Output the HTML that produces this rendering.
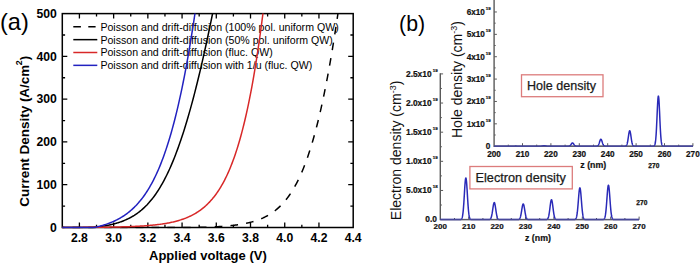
<!DOCTYPE html>
<html><head><meta charset="utf-8"><style>
html,body{margin:0;padding:0;background:#fff;width:700px;height:264px;overflow:hidden}
svg{display:block}
</style></head><body>
<svg width="700" height="264" viewBox="0 0 700 264">
<rect width="700" height="264" fill="#fff"/>
<clipPath id="ca"><rect x="61.3" y="13.6" width="291.9" height="214.9"/></clipPath>
<path d="M79.41,227.5v-5M79.41,13.6v5M96.52,227.5v-2.8M96.52,13.6v2.8M113.63,227.5v-5M113.63,13.6v5M130.74,227.5v-2.8M130.74,13.6v2.8M147.85,227.5v-5M147.85,13.6v5M164.96,227.5v-2.8M164.96,13.6v2.8M182.07,227.5v-5M182.07,13.6v5M199.18,227.5v-2.8M199.18,13.6v2.8M216.29,227.5v-5M216.29,13.6v5M233.40,227.5v-2.8M233.40,13.6v2.8M250.51,227.5v-5M250.51,13.6v5M267.62,227.5v-2.8M267.62,13.6v2.8M284.73,227.5v-5M284.73,13.6v5M301.84,227.5v-2.8M301.84,13.6v2.8M318.95,227.5v-5M318.95,13.6v5M62.3,206.11h2.8M353.2,206.11h-2.8M62.3,184.72h5M353.2,184.72h-5M62.3,163.33h2.8M353.2,163.33h-2.8M62.3,141.94h5M353.2,141.94h-5M62.3,120.55h2.8M353.2,120.55h-2.8M62.3,99.16h5M353.2,99.16h-5M62.3,77.77h2.8M353.2,77.77h-2.8M62.3,56.38h5M353.2,56.38h-5M62.3,34.99h2.8M353.2,34.99h-2.8" stroke="#000" stroke-width="1.3" fill="none"/>
<rect x="62.3" y="13.6" width="290.9" height="213.9" fill="none" stroke="#000" stroke-width="1.5"/>
<g font-family="Liberation Sans" font-weight="bold" font-size="12.2" fill="#000"><text x="79.41" y="242.4" text-anchor="middle">2.8</text><text x="113.63" y="242.4" text-anchor="middle">3.0</text><text x="147.85" y="242.4" text-anchor="middle">3.2</text><text x="182.07" y="242.4" text-anchor="middle">3.4</text><text x="216.29" y="242.4" text-anchor="middle">3.6</text><text x="250.51" y="242.4" text-anchor="middle">3.8</text><text x="284.73" y="242.4" text-anchor="middle">4.0</text><text x="318.95" y="242.4" text-anchor="middle">4.2</text><text x="353.17" y="242.4" text-anchor="middle">4.4</text><text x="56.8" y="231.80" text-anchor="end">0</text><text x="56.8" y="189.02" text-anchor="end">100</text><text x="56.8" y="146.24" text-anchor="end">200</text><text x="56.8" y="103.46" text-anchor="end">300</text><text x="56.8" y="60.68" text-anchor="end">400</text><text x="56.8" y="17.90" text-anchor="end">500</text></g>
<text x="149" y="260.4" font-family="Liberation Sans" font-weight="bold" font-size="13" fill="#000">Applied voltage (V)</text>
<text transform="translate(29.4,206.7) rotate(-90)" font-family="Liberation Sans" font-weight="bold" font-size="13" fill="#000" textLength="150.9" lengthAdjust="spacingAndGlyphs">Current Density (A/cm<tspan dy="-7.3" dx="-0.4" font-size="8.5">2</tspan><tspan dy="7.3">)</tspan></text>
<text x="0" y="30.2" font-family="Liberation Sans" font-size="23.6" fill="#000">(a)</text>
<path d="M73.3,26.80h7.6M88.3,26.80h7.3" stroke="#000" stroke-width="1.5"/>
<text x="100.4" y="30.70" font-family="Liberation Sans" font-size="10.6" fill="#000">Poisson and drift-diffusion (100% pol. uniform QW)</text>
<path d="M73.3,39.65h24" stroke="#000" stroke-width="1.5"/>
<text x="100.4" y="43.55" font-family="Liberation Sans" font-size="10.6" fill="#000">Poisson and drift-diffusion (50% pol. uniform QW)</text>
<path d="M73.3,52.50h24" stroke="#d82828" stroke-width="1.5"/>
<text x="100.4" y="56.40" font-family="Liberation Sans" font-size="10.6" fill="#000">Poisson and drift-diffusion (fluc. QW)</text>
<path d="M73.3,65.35h24" stroke="#2222c0" stroke-width="1.5"/>
<text x="100.4" y="69.25" font-family="Liberation Sans" font-size="10.6" fill="#000">Poisson and drift-diffusion with 1/u (fluc. QW)</text>
<g clip-path="url(#ca)" fill="none" stroke-width="1.5" stroke-linejoin="round">
<path d="M62.30,227.50 L192.26,227.50 L192.67,227.49 L193.08,227.49 L193.50,227.48 L193.94,227.47 L194.36,227.46 L194.78,227.45 L195.28,227.44 L195.75,227.44 L196.28,227.42 L196.73,227.41 L197.22,227.40 L197.76,227.39 L198.35,227.38 L198.77,227.37 L199.22,227.36 L199.69,227.35 L200.19,227.34 L200.72,227.32 L201.27,227.31 L201.86,227.29 L202.47,227.28 L203.12,227.26 L203.79,227.24 L204.50,227.22 L205.23,227.19 L206.00,227.17 L206.80,227.14 L207.22,227.13 L207.64,227.11 L208.07,227.10 L208.50,227.08 L208.95,227.07 L209.40,227.05 L209.86,227.03 L210.33,227.01 L210.80,226.99 L211.29,226.97 L211.78,226.95 L212.28,226.93 L212.79,226.91 L213.30,226.89 L213.82,226.86 L214.35,226.84 L214.89,226.81 L215.44,226.78 L215.99,226.75 L216.55,226.72 L217.11,226.69 L217.68,226.66 L218.26,226.63 L218.85,226.59 L219.44,226.56 L220.04,226.52 L220.65,226.48 L221.26,226.44 L221.87,226.40 L222.50,226.36 L223.13,226.31 L223.76,226.26 L224.41,226.22 L225.05,226.17 L225.71,226.11 L226.36,226.06 L227.03,226.00 L227.69,225.94 L228.37,225.88 L229.05,225.82 L229.73,225.75 L230.42,225.68 L231.11,225.61 L231.80,225.53 L232.51,225.46 L233.21,225.37 L233.92,225.29 L234.63,225.20 L235.35,225.11 L236.07,225.02 L236.80,224.92 L237.53,224.82 L238.26,224.71 L238.99,224.60 L239.73,224.49 L240.47,224.37 L241.22,224.25 L241.97,224.12 L242.72,223.98 L243.47,223.84 L244.23,223.70 L244.99,223.55 L245.76,223.39 L246.52,223.23 L247.29,223.06 L248.06,222.89 L248.83,222.70 L249.61,222.51 L250.39,222.32 L251.17,222.11 L251.95,221.90 L252.74,221.68 L253.52,221.45 L254.31,221.21 L255.10,220.96 L255.90,220.70 L256.69,220.43 L257.49,220.15 L258.29,219.86 L259.09,219.56 L259.90,219.25 L260.70,218.92 L261.51,218.58 L262.32,218.23 L263.13,217.87 L263.94,217.48 L264.75,217.09 L265.57,216.68 L266.39,216.25 L267.21,215.80 L268.03,215.34 L268.85,214.86 L269.68,214.36 L270.50,213.84 L271.33,213.30 L272.16,212.74 L273.00,212.16 L273.83,211.55 L274.66,210.92 L275.50,210.27 L276.34,209.59 L277.18,208.88 L278.03,208.14 L278.87,207.38 L279.72,206.58 L280.57,205.76 L281.42,204.90 L282.27,204.00 L283.13,203.08 L283.99,202.11 L284.85,201.11 L285.71,200.06 L286.57,198.98 L287.44,197.85 L288.31,196.68 L289.18,195.46 L290.06,194.20 L290.93,192.88 L291.81,191.51 L292.70,190.09 L293.58,188.61 L294.47,187.08 L295.36,185.48 L296.26,183.82 L297.16,182.09 L298.06,180.30 L298.97,178.43 L299.88,176.49 L300.79,174.48 L301.71,172.38 L302.63,170.20 L303.56,167.94 L304.49,165.59 L305.42,163.14 L306.36,160.60 L307.31,157.95 L308.25,155.20 L309.21,152.35 L310.17,149.38 L311.14,146.29 L312.11,143.08 L313.09,139.74 L314.07,136.28 L315.06,132.67 L316.06,128.92 L317.07,125.03 L318.08,120.98 L319.10,116.77 L320.13,112.39 L321.16,107.85 L322.21,103.12 L323.26,98.20 L324.32,93.09 L325.40,87.78 L326.48,82.26 L327.57,76.52 L328.68,70.55 L329.79,64.35 L330.92,57.90 L332.06,51.20 L333.21,44.23 L334.37,36.99 L335.55,29.46 L336.74,21.64 L337.95,13.50 L339.17,5.04" stroke="#000" stroke-dasharray="7.6 8.2" stroke-dashoffset="5.56"/>
<path d="M62.30,227.50 L92.43,227.50 L92.84,227.46 L93.26,227.42 L93.68,227.37 L94.12,227.33 L94.54,227.28 L94.96,227.24 L95.47,227.18 L95.94,227.13 L96.47,227.07 L96.92,227.01 L97.42,226.95 L97.96,226.89 L98.55,226.81 L98.98,226.75 L99.43,226.69 L99.91,226.63 L100.41,226.56 L100.94,226.48 L101.50,226.40 L102.09,226.31 L102.71,226.22 L103.36,226.11 L104.04,226.00 L104.75,225.88 L105.50,225.75 L106.28,225.61 L106.68,225.53 L107.09,225.46 L107.51,225.37 L107.93,225.29 L108.37,225.20 L108.81,225.11 L109.26,225.02 L109.72,224.92 L110.18,224.82 L110.66,224.71 L111.14,224.60 L111.63,224.49 L112.13,224.37 L112.64,224.25 L113.16,224.12 L113.68,223.98 L114.21,223.84 L114.75,223.70 L115.30,223.55 L115.85,223.39 L116.42,223.23 L116.99,223.06 L117.56,222.89 L118.15,222.70 L118.74,222.51 L119.34,222.32 L119.95,222.11 L120.57,221.90 L121.19,221.68 L121.82,221.45 L122.45,221.21 L123.09,220.96 L123.74,220.70 L124.40,220.43 L125.06,220.15 L125.73,219.86 L126.41,219.56 L127.09,219.25 L127.78,218.92 L128.47,218.58 L129.18,218.23 L129.88,217.87 L130.60,217.48 L131.32,217.09 L132.04,216.68 L132.77,216.25 L133.51,215.80 L134.26,215.34 L135.00,214.86 L135.76,214.36 L136.52,213.84 L137.29,213.30 L138.06,212.74 L138.84,212.16 L139.62,211.55 L140.41,210.92 L141.21,210.27 L142.01,209.59 L142.82,208.88 L143.63,208.14 L144.45,207.38 L145.27,206.58 L146.10,205.76 L146.94,204.90 L147.78,204.00 L148.63,203.08 L149.48,202.11 L150.34,201.11 L151.21,200.06 L152.08,198.98 L152.96,197.85 L153.85,196.68 L154.74,195.46 L155.64,194.20 L156.54,192.88 L157.46,191.51 L158.38,190.09 L159.31,188.61 L160.24,187.08 L161.19,185.48 L162.14,183.82 L163.10,182.09 L164.07,180.30 L165.04,178.43 L166.03,176.49 L167.03,174.48 L168.03,172.38 L169.04,170.20 L170.07,167.94 L171.10,165.59 L172.15,163.14 L173.21,160.60 L174.27,157.95 L175.35,155.20 L176.45,152.35 L177.55,149.38 L178.67,146.29 L179.80,143.08 L180.94,139.74 L182.10,136.28 L183.28,132.67 L184.47,128.92 L185.67,125.03 L186.90,120.98 L188.14,116.77 L189.39,112.39 L190.67,107.85 L191.97,103.12 L193.28,98.20 L194.62,93.09 L195.98,87.78 L197.36,82.26 L198.76,76.52 L200.19,70.55 L201.64,64.35 L203.12,57.90 L204.62,51.20 L206.16,44.23 L207.72,36.99 L209.31,29.46 L210.94,21.64 L212.59,13.50 L214.28,5.04" stroke="#000"/>
<path d="M62.30,227.50 L63.22,227.45 L64.14,227.44 L65.06,227.44 L65.97,227.44 L66.89,227.44 L67.81,227.44 L68.73,227.43 L69.64,227.43 L70.56,227.43 L71.48,227.42 L72.39,227.42 L73.31,227.42 L74.23,227.41 L75.15,227.41 L76.06,227.41 L76.98,227.40 L77.90,227.40 L78.82,227.40 L79.73,227.39 L80.65,227.39 L81.57,227.38 L82.48,227.38 L83.40,227.37 L84.32,227.37 L85.24,227.36 L86.15,227.36 L87.07,227.35 L87.99,227.35 L88.91,227.34 L89.82,227.34 L90.74,227.33 L91.66,227.32 L92.57,227.32 L93.49,227.31 L94.41,227.30 L95.33,227.29 L96.24,227.28 L97.16,227.28 L98.08,227.27 L99.00,227.26 L99.91,227.25 L100.83,227.24 L101.75,227.23 L102.67,227.22 L103.58,227.21 L104.50,227.19 L105.42,227.18 L106.34,227.17 L107.25,227.16 L108.17,227.14 L109.09,227.13 L110.01,227.11 L110.92,227.10 L111.84,227.08 L112.76,227.07 L113.68,227.05 L114.59,227.03 L115.51,227.01 L116.43,226.99 L117.35,226.97 L118.26,226.95 L119.18,226.93 L120.10,226.91 L121.02,226.89 L121.93,226.86 L122.85,226.84 L123.77,226.81 L124.69,226.78 L125.60,226.75 L126.52,226.72 L127.44,226.69 L128.36,226.66 L129.28,226.63 L130.19,226.59 L131.11,226.56 L132.03,226.52 L132.95,226.48 L133.86,226.44 L134.78,226.40 L135.70,226.36 L136.62,226.31 L137.54,226.26 L138.45,226.22 L139.37,226.17 L140.29,226.11 L141.21,226.06 L142.13,226.00 L143.04,225.94 L143.96,225.88 L144.88,225.82 L145.80,225.75 L146.72,225.68 L147.64,225.61 L148.55,225.53 L149.47,225.46 L150.39,225.37 L151.31,225.29 L152.23,225.20 L153.15,225.11 L154.07,225.02 L154.98,224.92 L155.90,224.82 L156.82,224.71 L157.74,224.60 L158.66,224.49 L159.58,224.37 L160.50,224.25 L161.42,224.12 L162.34,223.98 L163.26,223.84 L164.18,223.70 L165.10,223.55 L166.02,223.39 L166.94,223.23 L167.86,223.06 L168.78,222.89 L169.70,222.70 L170.62,222.51 L171.54,222.32 L172.46,222.11 L173.38,221.90 L174.30,221.68 L175.22,221.45 L176.14,221.21 L177.06,220.96 L177.98,220.70 L178.90,220.43 L179.83,220.15 L180.75,219.86 L181.67,219.56 L182.59,219.25 L183.51,218.92 L184.44,218.58 L185.36,218.23 L186.28,217.87 L187.21,217.48 L188.13,217.09 L189.05,216.68 L189.98,216.25 L190.90,215.80 L191.83,215.34 L192.75,214.86 L193.68,214.36 L194.60,213.84 L195.53,213.30 L196.46,212.74 L197.38,212.16 L198.31,211.55 L199.24,210.92 L200.16,210.27 L201.09,209.59 L202.02,208.88 L202.95,208.14 L203.88,207.38 L204.81,206.58 L205.74,205.76 L206.67,204.90 L207.60,204.00 L208.53,203.08 L209.47,202.11 L210.40,201.11 L211.33,200.06 L212.27,198.98 L213.20,197.85 L214.14,196.68 L215.08,195.46 L216.01,194.20 L216.95,192.88 L217.89,191.51 L218.83,190.09 L219.77,188.61 L220.71,187.08 L221.66,185.48 L222.60,183.82 L223.55,182.09 L224.49,180.30 L225.44,178.43 L226.39,176.49 L227.34,174.48 L228.29,172.38 L229.24,170.20 L230.19,167.94 L231.15,165.59 L232.10,163.14 L233.06,160.60 L234.02,157.95 L234.98,155.20 L235.95,152.35 L236.91,149.38 L237.88,146.29 L238.85,143.08 L239.82,139.74 L240.79,136.28 L241.77,132.67 L242.74,128.92 L243.72,125.03 L244.70,120.98 L245.69,116.77 L246.68,112.39 L247.67,107.85 L248.66,103.12 L249.66,98.20 L250.65,93.09 L251.66,87.78 L252.66,82.26 L253.67,76.52 L254.68,70.55 L255.70,64.35 L256.72,57.90 L257.75,51.20 L258.78,44.23 L259.81,36.99 L260.85,29.46 L261.89,21.64 L262.94,13.50 L263.99,5.04" stroke="#d82828"/>
<path d="M62.30,227.50 L94.22,227.50 L94.63,227.41 L95.04,227.32 L95.47,227.23 L95.92,227.13 L96.34,227.03 L96.78,226.93 L97.18,226.84 L97.65,226.72 L98.18,226.59 L98.63,226.48 L99.12,226.36 L99.67,226.22 L100.26,226.06 L100.70,225.94 L101.15,225.82 L101.64,225.68 L102.15,225.53 L102.70,225.37 L103.27,225.20 L103.88,225.02 L104.52,224.82 L105.20,224.60 L105.91,224.37 L106.65,224.12 L107.44,223.84 L107.84,223.70 L108.26,223.55 L108.68,223.39 L109.12,223.23 L109.56,223.06 L110.01,222.89 L110.48,222.70 L110.95,222.51 L111.43,222.32 L111.92,222.11 L112.42,221.90 L112.93,221.68 L113.46,221.45 L113.99,221.21 L114.53,220.96 L115.08,220.70 L115.64,220.43 L116.21,220.15 L116.79,219.86 L117.37,219.56 L117.97,219.25 L118.58,218.92 L119.20,218.58 L119.82,218.23 L120.46,217.87 L121.11,217.48 L121.76,217.09 L122.42,216.68 L123.10,216.25 L123.78,215.80 L124.47,215.34 L125.16,214.86 L125.87,214.36 L126.59,213.84 L127.31,213.30 L128.04,212.74 L128.78,212.16 L129.53,211.55 L130.29,210.92 L131.05,210.27 L131.82,209.59 L132.60,208.88 L133.39,208.14 L134.19,207.38 L134.99,206.58 L135.80,205.76 L136.61,204.90 L137.44,204.00 L138.27,203.08 L139.10,202.11 L139.95,201.11 L140.80,200.06 L141.65,198.98 L142.52,197.85 L143.39,196.68 L144.26,195.46 L145.14,194.20 L146.03,192.88 L146.93,191.51 L147.83,190.09 L148.74,188.61 L149.65,187.08 L150.57,185.48 L151.49,183.82 L152.42,182.09 L153.36,180.30 L154.30,178.43 L155.25,176.49 L156.20,174.48 L157.16,172.38 L158.13,170.20 L159.10,167.94 L160.08,165.59 L161.06,163.14 L162.05,160.60 L163.04,157.95 L164.04,155.20 L165.05,152.35 L166.06,149.38 L167.08,146.29 L168.11,143.08 L169.14,139.74 L170.18,136.28 L171.22,132.67 L172.27,128.92 L173.33,125.03 L174.40,120.98 L175.47,116.77 L176.55,112.39 L177.64,107.85 L178.73,103.12 L179.83,98.20 L180.94,93.09 L182.06,87.78 L183.19,82.26 L184.32,76.52 L185.46,70.55 L186.62,64.35 L187.78,57.90 L188.95,51.20 L190.13,44.23 L191.32,36.99 L192.53,29.46 L193.74,21.64 L194.96,13.50 L196.20,5.04" stroke="#2222c0"/>
</g>
<path d="M494.1,123.83h2.8M494.1,101.46h2.8M494.1,79.09h2.8M494.1,56.72h2.8M494.1,34.35h2.8M494.1,11.98h2.8M494.1,135.01h1.6M494.1,112.64h1.6M494.1,90.27h1.6M494.1,67.90h1.6M494.1,45.53h1.6M494.1,23.16h1.6M508.30,146.2v-1.6M522.50,146.2v-3M536.70,146.2v-1.6M550.90,146.2v-3M565.10,146.2v-1.6M579.30,146.2v-3M593.50,146.2v-1.6M607.70,146.2v-3M621.90,146.2v-1.6M636.10,146.2v-3M650.30,146.2v-1.6M664.50,146.2v-3M678.70,146.2v-1.6M692.90,146.2v-3" stroke="#5a5a5a" stroke-width="1" fill="none"/>
<path d="M494.1,0V146.2H692.9" stroke="#5a5a5a" stroke-width="1.4" fill="none"/>
<g font-family="Liberation Sans" font-weight="bold" font-size="8.2" fill="#111" stroke="#111" stroke-width="0.2"><text x="494.10" y="156.6" text-anchor="middle">200</text><text x="522.50" y="156.6" text-anchor="middle">210</text><text x="550.90" y="156.6" text-anchor="middle">220</text><text x="579.30" y="156.6" text-anchor="middle">230</text><text x="607.70" y="156.6" text-anchor="middle">240</text><text x="636.10" y="156.6" text-anchor="middle">250</text><text x="664.50" y="156.6" text-anchor="middle">260</text><text x="692.90" y="156.6" text-anchor="middle">270</text></g>
<g font-family="Liberation Sans" font-weight="bold" fill="#111" stroke="#111" stroke-width="0.2"><text x="490.4" y="149.10" text-anchor="end" font-size="8.2">0</text><text x="484.9" y="126.73" text-anchor="end" font-size="8.2">1x10</text><text x="485.7" y="121.83" font-size="4.4">19</text><text x="484.9" y="104.36" text-anchor="end" font-size="8.2">2x10</text><text x="485.7" y="99.46" font-size="4.4">19</text><text x="484.9" y="81.99" text-anchor="end" font-size="8.2">3x10</text><text x="485.7" y="77.09" font-size="4.4">19</text><text x="484.9" y="59.62" text-anchor="end" font-size="8.2">4x10</text><text x="485.7" y="54.72" font-size="4.4">19</text><text x="484.9" y="37.25" text-anchor="end" font-size="8.2">5x10</text><text x="485.7" y="32.35" font-size="4.4">19</text><text x="484.9" y="14.88" text-anchor="end" font-size="8.2">6x10</text><text x="485.7" y="9.98" font-size="4.4">19</text></g>
<path d="M494.10,146.20 L514.14,146.15 L514.28,146.15 L514.42,146.14 L514.56,146.14 L514.70,146.13 L514.85,146.13 L514.99,146.12 L515.13,146.12 L515.27,146.11 L515.42,146.11 L515.56,146.11 L515.70,146.11 L515.84,146.11 L515.98,146.11 L516.13,146.12 L516.27,146.12 L516.41,146.12 L516.55,146.13 L516.69,146.13 L516.84,146.14 L516.98,146.14 L517.12,146.15 L517.26,146.16 L541.14,146.15 L541.28,146.14 L541.42,146.12 L541.56,146.11 L541.70,146.09 L541.85,146.06 L541.99,146.04 L542.13,146.01 L542.27,145.98 L542.41,145.94 L542.56,145.91 L542.70,145.87 L542.84,145.84 L542.98,145.80 L543.13,145.77 L543.27,145.74 L543.41,145.71 L543.55,145.68 L543.69,145.66 L543.84,145.65 L543.98,145.64 L544.12,145.64 L544.26,145.65 L544.40,145.66 L544.55,145.67 L544.69,145.70 L544.83,145.72 L544.97,145.75 L545.11,145.78 L545.26,145.82 L545.40,145.86 L545.54,145.89 L545.68,145.93 L545.82,145.96 L545.97,145.99 L546.11,146.02 L546.25,146.05 L546.39,146.07 L546.54,146.10 L546.68,146.12 L546.82,146.13 L546.96,146.15 L547.10,146.16 L568.56,146.16 L568.70,146.14 L568.85,146.12 L568.99,146.10 L569.13,146.06 L569.27,146.02 L569.41,145.97 L569.56,145.91 L569.70,145.83 L569.84,145.74 L569.98,145.64 L570.12,145.52 L570.27,145.38 L570.41,145.23 L570.55,145.06 L570.69,144.88 L570.83,144.69 L570.98,144.49 L571.12,144.28 L571.26,144.07 L571.40,143.86 L571.55,143.67 L571.69,143.49 L571.83,143.32 L571.97,143.19 L572.11,143.08 L572.26,143.00 L572.40,142.96 L572.54,142.96 L572.68,142.99 L572.82,143.06 L572.97,143.16 L573.11,143.29 L573.25,143.45 L573.39,143.63 L573.53,143.82 L573.68,144.02 L573.82,144.23 L573.96,144.44 L574.10,144.65 L574.25,144.84 L574.39,145.03 L574.53,145.20 L574.67,145.35 L574.81,145.49 L574.96,145.62 L575.10,145.72 L575.24,145.82 L575.38,145.89 L575.52,145.96 L575.67,146.01 L575.81,146.05 L575.95,146.09 L576.09,146.12 L576.23,146.14 L576.38,146.15 L596.56,146.16 L596.70,146.15 L596.84,146.13 L596.98,146.10 L597.12,146.07 L597.27,146.02 L597.41,145.97 L597.55,145.89 L597.69,145.80 L597.83,145.69 L597.98,145.55 L598.12,145.39 L598.26,145.20 L598.40,144.97 L598.54,144.71 L598.69,144.41 L598.83,144.08 L598.97,143.72 L599.11,143.32 L599.26,142.91 L599.40,142.47 L599.54,142.03 L599.68,141.58 L599.82,141.14 L599.97,140.73 L600.11,140.34 L600.25,140.01 L600.39,139.72 L600.53,139.50 L600.68,139.35 L600.82,139.27 L600.96,139.28 L601.10,139.36 L601.24,139.51 L601.39,139.74 L601.53,140.03 L601.67,140.37 L601.81,140.76 L601.96,141.17 L602.10,141.61 L602.24,142.06 L602.38,142.50 L602.52,142.94 L602.67,143.35 L602.81,143.75 L602.95,144.11 L603.09,144.43 L603.23,144.73 L603.38,144.99 L603.52,145.21 L603.66,145.40 L603.80,145.56 L603.94,145.70 L604.09,145.81 L604.23,145.90 L604.37,145.97 L604.51,146.03 L604.65,146.07 L604.80,146.11 L604.94,146.13 L605.08,146.15 L625.12,146.16 L625.26,146.14 L625.40,146.12 L625.54,146.08 L625.69,146.04 L625.83,145.98 L625.97,145.90 L626.11,145.79 L626.25,145.66 L626.40,145.49 L626.54,145.28 L626.68,145.02 L626.82,144.71 L626.96,144.34 L627.11,143.89 L627.25,143.38 L627.39,142.79 L627.53,142.12 L627.68,141.37 L627.82,140.55 L627.96,139.67 L628.10,138.73 L628.24,137.76 L628.39,136.76 L628.53,135.77 L628.67,134.80 L628.81,133.89 L628.95,133.05 L629.10,132.31 L629.24,131.70 L629.38,131.23 L629.52,130.92 L629.66,130.77 L629.81,130.81 L629.95,131.01 L630.09,131.38 L630.23,131.91 L630.38,132.57 L630.52,133.35 L630.66,134.22 L630.80,135.15 L630.94,136.13 L631.09,137.13 L631.23,138.11 L631.37,139.08 L631.51,140.00 L631.65,140.86 L631.80,141.65 L631.94,142.37 L632.08,143.01 L632.22,143.58 L632.36,144.06 L632.51,144.48 L632.65,144.83 L632.79,145.12 L632.93,145.36 L633.08,145.56 L633.22,145.71 L633.36,145.83 L633.50,145.93 L633.64,146.00 L633.79,146.05 L633.93,146.10 L634.07,146.13 L634.21,146.15 L634.35,146.16 L653.40,146.15 L653.54,146.13 L653.68,146.10 L653.82,146.06 L653.96,146.00 L654.11,145.91 L654.25,145.80 L654.39,145.64 L654.53,145.44 L654.67,145.17 L654.82,144.82 L654.96,144.37 L655.10,143.81 L655.24,143.11 L655.39,142.25 L655.53,141.21 L655.67,139.96 L655.81,138.49 L655.95,136.78 L656.10,134.82 L656.24,132.61 L656.38,130.15 L656.52,127.46 L656.66,124.56 L656.81,121.50 L656.95,118.33 L657.09,115.10 L657.23,111.88 L657.37,108.77 L657.52,105.82 L657.66,103.14 L657.80,100.80 L657.94,98.87 L658.09,97.41 L658.23,96.48 L658.37,96.10 L658.51,96.28 L658.65,97.03 L658.80,98.31 L658.94,100.08 L659.08,102.29 L659.22,104.86 L659.36,107.72 L659.51,110.79 L659.65,113.98 L659.79,117.21 L659.93,120.41 L660.07,123.52 L660.22,126.47 L660.36,129.24 L660.50,131.78 L660.64,134.08 L660.79,136.13 L660.93,137.92 L661.07,139.48 L661.21,140.80 L661.35,141.91 L661.50,142.83 L661.64,143.58 L661.78,144.19 L661.92,144.68 L662.06,145.06 L662.21,145.35 L662.35,145.58 L662.49,145.75 L662.63,145.88 L662.77,145.97 L662.92,146.04 L663.06,146.09 L663.20,146.12 L663.34,146.15 L663.48,146.17 L692.90,146.20" stroke="#2a2ab8" stroke-width="1.5" fill="none" stroke-linejoin="round"/>
<text x="580.3" y="167.6" font-family="Liberation Sans" font-weight="bold" font-size="8.8" fill="#111" stroke="#111" stroke-width="0.2">z (nm)</text>
<text x="648.3" y="167.8" font-family="Liberation Sans" font-weight="bold" font-size="6.6" fill="#111" stroke="#111" stroke-width="0.25">270</text>
<text transform="translate(462.4,138.0) rotate(-90)" font-family="Liberation Sans" font-size="14" fill="#111">Hole density (cm<tspan dy="-5" font-size="9">-3</tspan><tspan dy="5">)</tspan></text>
<path d="M494.1,146.2H692.9" stroke="#606080" stroke-width="1.5" opacity="0.55"/>
<path d="M440.3,190.46h2.8M440.3,161.32h2.8M440.3,132.18h2.8M440.3,103.04h2.8M440.3,73.90h2.8M440.3,205.03h1.6M440.3,175.89h1.6M440.3,146.75h1.6M440.3,117.61h1.6M440.3,88.47h1.6M454.50,219.6v-1.6M468.70,219.6v-3M482.90,219.6v-1.6M497.10,219.6v-3M511.30,219.6v-1.6M525.50,219.6v-3M539.70,219.6v-1.6M553.90,219.6v-3M568.10,219.6v-1.6M582.30,219.6v-3M596.50,219.6v-1.6M610.70,219.6v-3M624.90,219.6v-1.6M639.10,219.6v-3" stroke="#5a5a5a" stroke-width="1" fill="none"/>
<path d="M440.3,73.2V219.6H639.1" stroke="#5a5a5a" stroke-width="1.4" fill="none"/>
<g font-family="Liberation Sans" font-weight="bold" font-size="8" fill="#111" stroke="#111" stroke-width="0.2"><text x="440.30" y="229.2" text-anchor="middle">200</text><text x="468.70" y="229.2" text-anchor="middle">210</text><text x="497.10" y="229.2" text-anchor="middle">220</text><text x="525.50" y="229.2" text-anchor="middle">230</text><text x="553.90" y="229.2" text-anchor="middle">240</text><text x="582.30" y="229.2" text-anchor="middle">250</text><text x="610.70" y="229.2" text-anchor="middle">260</text><text x="639.10" y="229.2" text-anchor="middle">270</text></g>
<g font-family="Liberation Sans" font-weight="bold" fill="#111" stroke="#111" stroke-width="0.2"><text x="437.0" y="221.50" text-anchor="end" font-size="8.4">0.0</text><text x="431.6" y="193.36" text-anchor="end" font-size="8.4">5.0x10</text><text x="432.8" y="188.46" font-size="4.4">18</text><text x="431.6" y="164.22" text-anchor="end" font-size="8.4">1.0x10</text><text x="432.8" y="159.32" font-size="4.4">19</text><text x="431.6" y="135.08" text-anchor="end" font-size="8.4">1.5x10</text><text x="432.8" y="130.18" font-size="4.4">19</text><text x="431.6" y="105.94" text-anchor="end" font-size="8.4">2.0x10</text><text x="432.8" y="101.04" font-size="4.4">19</text><text x="431.6" y="76.80" text-anchor="end" font-size="8.4">2.5x10</text><text x="432.8" y="71.90" font-size="4.4">19</text></g>
<path d="M440.30,219.60 L460.34,219.55 L460.48,219.53 L460.62,219.50 L460.76,219.47 L460.90,219.42 L461.05,219.35 L461.19,219.26 L461.33,219.15 L461.47,219.00 L461.62,218.82 L461.76,218.59 L461.90,218.29 L462.04,217.93 L462.18,217.49 L462.33,216.96 L462.47,216.32 L462.61,215.56 L462.75,214.66 L462.89,213.63 L463.04,212.44 L463.18,211.09 L463.32,209.57 L463.46,207.90 L463.60,206.06 L463.75,204.07 L463.89,201.95 L464.03,199.71 L464.17,197.39 L464.32,195.03 L464.46,192.65 L464.60,190.30 L464.74,188.03 L464.88,185.88 L465.03,183.91 L465.17,182.16 L465.31,180.68 L465.45,179.49 L465.59,178.63 L465.74,178.13 L465.88,177.99 L466.02,178.22 L466.16,178.82 L466.30,179.76 L466.45,181.03 L466.59,182.59 L466.73,184.40 L466.87,186.42 L467.02,188.60 L467.16,190.90 L467.30,193.26 L467.44,195.64 L467.58,198.00 L467.73,200.30 L467.87,202.50 L468.01,204.59 L468.15,206.55 L468.29,208.34 L468.44,209.98 L468.58,211.45 L468.72,212.76 L468.86,213.91 L469.00,214.91 L469.15,215.76 L469.29,216.49 L469.43,217.10 L469.57,217.61 L469.72,218.03 L469.86,218.38 L470.00,218.65 L470.14,218.87 L470.28,219.05 L470.43,219.18 L470.57,219.29 L470.71,219.37 L470.85,219.43 L470.99,219.48 L471.14,219.51 L471.28,219.54 L471.42,219.55 L489.04,219.56 L489.18,219.54 L489.33,219.52 L489.47,219.49 L489.61,219.46 L489.75,219.41 L489.89,219.35 L490.04,219.27 L490.18,219.17 L490.32,219.05 L490.46,218.89 L490.60,218.71 L490.75,218.48 L490.89,218.22 L491.03,217.90 L491.17,217.52 L491.31,217.09 L491.46,216.60 L491.60,216.04 L491.74,215.41 L491.88,214.71 L492.02,213.95 L492.17,213.13 L492.31,212.25 L492.45,211.33 L492.59,210.38 L492.74,209.41 L492.88,208.44 L493.02,207.48 L493.16,206.56 L493.30,205.69 L493.45,204.90 L493.59,204.20 L493.73,203.60 L493.87,203.14 L494.01,202.81 L494.16,202.62 L494.30,202.59 L494.44,202.70 L494.58,202.97 L494.72,203.37 L494.87,203.91 L495.01,204.56 L495.15,205.32 L495.29,206.15 L495.44,207.05 L495.58,208.00 L495.72,208.97 L495.86,209.94 L496.00,210.90 L496.15,211.84 L496.29,212.73 L496.43,213.58 L496.57,214.37 L496.71,215.10 L496.86,215.76 L497.00,216.35 L497.14,216.87 L497.28,217.33 L497.42,217.73 L497.57,218.08 L497.71,218.37 L497.85,218.61 L497.99,218.81 L498.14,218.98 L498.28,219.12 L498.42,219.23 L498.56,219.31 L498.70,219.38 L498.85,219.44 L498.99,219.48 L499.13,219.51 L499.27,219.53 L499.41,219.55 L518.03,219.56 L518.17,219.54 L518.31,219.52 L518.46,219.50 L518.60,219.46 L518.74,219.42 L518.88,219.36 L519.02,219.28 L519.17,219.19 L519.31,219.07 L519.45,218.93 L519.59,218.75 L519.73,218.54 L519.88,218.29 L520.02,217.99 L520.16,217.64 L520.30,217.24 L520.45,216.77 L520.59,216.25 L520.73,215.66 L520.87,215.01 L521.01,214.31 L521.16,213.55 L521.30,212.74 L521.44,211.89 L521.58,211.01 L521.72,210.12 L521.87,209.23 L522.01,208.35 L522.15,207.51 L522.29,206.72 L522.43,206.01 L522.58,205.38 L522.72,204.85 L522.86,204.44 L523.00,204.15 L523.15,204.00 L523.29,203.99 L523.43,204.12 L523.57,204.38 L523.71,204.77 L523.86,205.28 L524.00,205.90 L524.14,206.60 L524.28,207.38 L524.42,208.21 L524.57,209.08 L524.71,209.97 L524.85,210.86 L524.99,211.74 L525.13,212.60 L525.28,213.41 L525.42,214.18 L525.56,214.90 L525.70,215.56 L525.85,216.15 L525.99,216.69 L526.13,217.16 L526.27,217.58 L526.41,217.94 L526.56,218.24 L526.70,218.50 L526.84,218.72 L526.98,218.90 L527.12,219.05 L527.27,219.17 L527.41,219.27 L527.55,219.35 L527.69,219.41 L527.83,219.46 L527.98,219.49 L528.12,219.52 L528.26,219.54 L528.40,219.56 L546.17,219.56 L546.31,219.55 L546.45,219.53 L546.59,219.50 L546.73,219.46 L546.88,219.42 L547.02,219.36 L547.16,219.28 L547.30,219.18 L547.44,219.06 L547.59,218.91 L547.73,218.72 L547.87,218.49 L548.01,218.22 L548.16,217.89 L548.30,217.50 L548.44,217.05 L548.58,216.52 L548.72,215.92 L548.87,215.25 L549.01,214.49 L549.15,213.66 L549.29,212.75 L549.43,211.78 L549.58,210.74 L549.72,209.66 L549.86,208.54 L550.00,207.41 L550.14,206.28 L550.29,205.18 L550.43,204.12 L550.57,203.13 L550.71,202.23 L550.85,201.45 L551.00,200.80 L551.14,200.30 L551.28,199.97 L551.42,199.80 L551.57,199.81 L551.71,200.00 L551.85,200.35 L551.99,200.87 L552.13,201.54 L552.28,202.33 L552.42,203.24 L552.56,204.24 L552.70,205.30 L552.84,206.41 L552.99,207.54 L553.13,208.68 L553.27,209.79 L553.41,210.87 L553.55,211.90 L553.70,212.86 L553.84,213.76 L553.98,214.59 L554.12,215.33 L554.27,216.00 L554.41,216.59 L554.55,217.10 L554.69,217.55 L554.83,217.93 L554.98,218.25 L555.12,218.52 L555.26,218.75 L555.40,218.93 L555.54,219.08 L555.69,219.20 L555.83,219.29 L555.97,219.37 L556.11,219.42 L556.25,219.47 L556.40,219.50 L556.54,219.53 L556.68,219.55 L556.82,219.56 L574.44,219.55 L574.59,219.54 L574.73,219.51 L574.87,219.48 L575.01,219.43 L575.15,219.37 L575.30,219.30 L575.44,219.20 L575.58,219.07 L575.72,218.91 L575.86,218.70 L576.01,218.45 L576.15,218.14 L576.29,217.77 L576.43,217.31 L576.58,216.77 L576.72,216.14 L576.86,215.39 L577.00,214.54 L577.14,213.56 L577.29,212.46 L577.43,211.23 L577.57,209.88 L577.71,208.41 L577.85,206.83 L578.00,205.16 L578.14,203.41 L578.28,201.62 L578.42,199.80 L578.56,197.99 L578.71,196.23 L578.85,194.55 L578.99,192.98 L579.13,191.57 L579.28,190.35 L579.42,189.34 L579.56,188.58 L579.70,188.07 L579.84,187.85 L579.99,187.91 L580.13,188.24 L580.27,188.85 L580.41,189.72 L580.55,190.82 L580.70,192.12 L580.84,193.60 L580.98,195.22 L581.12,196.93 L581.26,198.72 L581.41,200.53 L581.55,202.35 L581.69,204.12 L581.83,205.84 L581.98,207.48 L582.12,209.01 L582.26,210.44 L582.40,211.74 L582.54,212.92 L582.69,213.97 L582.83,214.90 L582.97,215.71 L583.11,216.41 L583.25,217.00 L583.40,217.51 L583.54,217.93 L583.68,218.28 L583.82,218.56 L583.96,218.79 L584.11,218.98 L584.25,219.12 L584.39,219.24 L584.53,219.33 L584.68,219.40 L584.82,219.45 L584.96,219.49 L585.10,219.52 L585.24,219.54 L585.39,219.56 L602.86,219.56 L603.01,219.55 L603.15,219.53 L603.29,219.50 L603.43,219.46 L603.57,219.41 L603.72,219.34 L603.86,219.26 L604.00,219.15 L604.14,219.00 L604.29,218.82 L604.43,218.59 L604.57,218.31 L604.71,217.97 L604.85,217.55 L605.00,217.05 L605.14,216.45 L605.28,215.74 L605.42,214.92 L605.56,213.97 L605.71,212.90 L605.85,211.68 L605.99,210.33 L606.13,208.85 L606.27,207.24 L606.42,205.52 L606.56,203.70 L606.70,201.80 L606.84,199.85 L606.99,197.88 L607.13,195.93 L607.27,194.03 L607.41,192.23 L607.55,190.56 L607.70,189.05 L607.84,187.76 L607.98,186.71 L608.12,185.92 L608.26,185.42 L608.41,185.22 L608.55,185.32 L608.69,185.73 L608.83,186.43 L608.97,187.41 L609.12,188.63 L609.26,190.07 L609.40,191.70 L609.54,193.46 L609.68,195.34 L609.83,197.28 L609.97,199.24 L610.11,201.20 L610.25,203.12 L610.40,204.97 L610.54,206.72 L610.68,208.37 L610.82,209.89 L610.96,211.28 L611.11,212.54 L611.25,213.66 L611.39,214.64 L611.53,215.50 L611.67,216.24 L611.82,216.87 L611.96,217.40 L612.10,217.85 L612.24,218.21 L612.38,218.51 L612.53,218.76 L612.67,218.95 L612.81,219.10 L612.95,219.23 L613.10,219.32 L613.24,219.39 L613.38,219.45 L613.52,219.49 L613.66,219.52 L613.81,219.54 L613.95,219.56 L639.10,219.60" stroke="#2a2ab8" stroke-width="1.5" fill="none" stroke-linejoin="round"/>
<path d="M440.3,219.6H639.1" stroke="#606080" stroke-width="1.5" opacity="0.55"/>
<text x="525" y="240.8" font-family="Liberation Sans" font-weight="bold" font-size="8.8" fill="#111" stroke="#111" stroke-width="0.2">z (nm)</text>
<text x="636.3" y="204.6" font-family="Liberation Sans" font-weight="bold" font-size="6.6" fill="#111" stroke="#111" stroke-width="0.25">270</text>
<text transform="translate(400.6,220.2) rotate(-90)" font-family="Liberation Sans" font-size="14" fill="#111">Electron density (cm<tspan dy="-5" font-size="9">-3</tspan><tspan dy="5">)</tspan></text>
<rect x="521.5" y="74.8" width="81.5" height="21.9" fill="#fff" stroke="#dc7c7c" stroke-width="1.3"/>
<text x="527" y="89.9" font-family="Liberation Sans" font-size="12.5" fill="#1a1a1a" stroke="#1a1a1a" stroke-width="0.25" textLength="69" lengthAdjust="spacingAndGlyphs">Hole density</text>
<rect x="469.9" y="166.5" width="102.4" height="22.4" fill="#fff" stroke="#dc7c7c" stroke-width="1.3"/>
<text x="475.6" y="181.9" font-family="Liberation Sans" font-size="12.5" fill="#1a1a1a" stroke="#1a1a1a" stroke-width="0.25" textLength="90.2" lengthAdjust="spacingAndGlyphs">Electron density</text>
<text x="399.1" y="31.2" font-family="Liberation Sans" font-size="21.3" fill="#000">(b)</text>
</svg>
</body></html>
